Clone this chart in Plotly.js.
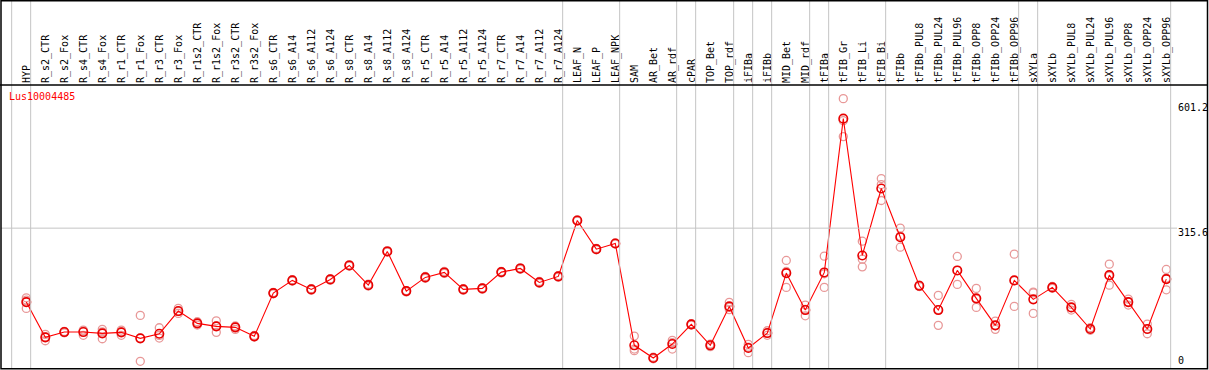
<!DOCTYPE html>
<html>
<head>
<meta charset="utf-8">
<script src="https://cdn.plot.ly/plotly-3.0.1.min.js"></script>
<style>html,body{margin:0;padding:0;background:#fff;}#chart{width:1209px;height:370px;}</style>
</head>
<body>
<div id="chart"></div>
<script>
const geneName = "Lus10004485";
const categories = ["HYP","R_s2_CTR","R_s2_Fox","R_s4_CTR","R_s4_Fox","R_r1_CTR","R_r1_Fox","R_r3_CTR","R_r3_Fox","R_r1s2_CTR","R_r1s2_Fox","R_r3s2_CTR","R_r3s2_Fox","R_s6_CTR","R_s6_A14","R_s6_A112","R_s6_A124","R_s8_CTR","R_s8_A14","R_s8_A112","R_s8_A124","R_r5_CTR","R_r5_A14","R_r5_A112","R_r5_A124","R_r7_CTR","R_r7_A14","R_r7_A112","R_r7_A124","LEAF_N","LEAF_P","LEAF_NPK","SAM","AR_Bet","AR_rdf","cPAR","TOP_Bet","TOP_rdf","iFIBa","iFIBb","MID_Bet","MID_rdf","tFIBa","tFIB_Gr","tFIB_Li","tFIB_Bi","tFIBb","tFIBb_PUL8","tFIBb_PUL24","tFIBb_PUL96","tFIBb_OPP8","tFIBb_OPP24","tFIBb_OPP96","sXYLa","sXYLb","sXYLb_PUL8","sXYLb_PUL24","sXYLb_PUL96","sXYLb_OPP8","sXYLb_OPP24","sXYLb_OPP96"];
const meanValues = [152.6,74.9,86.5,86.5,83.7,85.9,72.7,82.8,132.8,105.7,99.1,96.9,77.1,172.4,200.4,180.6,202.6,233.4,190.0,264.3,176.8,207.0,218.0,180.6,182.8,218.7,226.8,196.0,209.2,332.5,269.3,281.9,57.3,29.3,60.1,103.5,57.3,143.1,51.3,84.3,216.5,135.0,218.0,557.1,255.4,403.0,295.7,188.5,135.0,222.4,160.8,101.3,200.4,158.6,185.0,140.9,93.2,212.0,152.6,93.2,203.3];
const replicate1 = [162.1,81.5,88,91,92.5,91,123.3,96,138.7,109.2,111.4,100,79,174,202,182,204,235,192,266,178,209,220,182,184,220,228,198,211,334,271,283,77.7,31,68.3,105,60.1,152,59.5,89.4,244.4,146,253.9,601.2,286.9,425,315.6,190,167.4,253.2,182.8,110.8,258.3,174.6,187,147.5,96,236.3,159.2,104.2,224.6];
const replicate2 = [138.7,67.4,85,79.3,71.8,79.3,22,73.3,127.7,102,85.9,92.5,75.5,171,199,179,201,232,188,263,175,205,216,179,181,217,225,194,207.5,331,268,280.5,45.4,27.5,49.1,102,54.2,141,41,79.3,185,122.4,185,517.5,247.3,376.6,273.7,187,101.3,191.6,140.9,92.5,143.1,127.7,183,135,90.5,190,146,82.8,179.7];
const replicate3 = [157,75.8,86.5,89,87,87,73,79,132,106,100,98,77,172.4,200.4,180.6,202.6,233.4,190,264.3,176.8,207,218,180.6,182.8,218.7,226.8,196,209.2,332.5,269.3,281.9,49,29.3,63,103.5,57.5,136,53,84.3,220,136.6,215,552.6,230.3,411.8,298,188.5,136,222.4,159,101,200,173,185,140.3,93,210,152.6,92.5,205.5];
const groupEnds = [-1,0,28,31,34,35,37,38,39,41,42,45,52,53,60];

const idx = categories.map((c,i)=>i);
const allReps = [replicate1, replicate2, replicate3];
const repX = [], repY = [];
allReps.forEach(r => r.forEach((v,i)=>{ if(v!==null){repX.push(i); repY.push(v);} }));

const dataMax = Math.max(...meanValues, ...allReps.flat().filter(v=>v!==null));
const yTop = dataMax * 1.05;
const yMid = yTop / 2;

// pixel geometry
const W = 1209, H = 370, mL = 1, mR = 2, mT = 85, mB = 0;
const firstPx = 26.3, stepPx = 19;
const plotW = W - mL - mR, plotH = H - mT - mB;
const xr = [(mL - firstPx)/stepPx, (W - mR - firstPx)/stepPx];
const pxToPaperX = px => (px - mL)/plotW;
const pxToPaperY = py => (H - mB - py)/plotH;
const zeroPx = 371.3;
const yScale = (zeroPx - mT) / yTop;
const yr = [(zeroPx - (H - mB))/yScale, yTop];

const shapes = [];
groupEnds.forEach(g => {
  shapes.push({type:'line', xref:'x', yref:'paper', x0:g+0.23, x1:g+0.23, y0:pxToPaperY(369), y1:pxToPaperY(0), line:{color:'#c4c4c4', width:1}});
});
shapes.push({type:'line', xref:'paper', yref:'y', x0:0, x1:pxToPaperX(1177), y0:yMid, y1:yMid, line:{color:'#c4c4c4', width:1}});
// header separator and border
shapes.push({type:'line', xref:'paper', yref:'paper', x0:pxToPaperX(0), x1:pxToPaperX(1208), y0:pxToPaperY(85), y1:pxToPaperY(85), line:{color:'#000', width:1.5}});
shapes.push({type:'rect', xref:'paper', yref:'paper', x0:pxToPaperX(1), x1:pxToPaperX(1207.5), y0:pxToPaperY(368.8), y1:pxToPaperY(0.8), line:{color:'#000', width:1.5}});

const fontMono = 'DejaVu Sans Mono, monospace';
const annotations = [
  {xref:'paper', yref:'paper', x:pxToPaperX(7), y:pxToPaperY(89), xanchor:'left', yanchor:'top', text:geneName, showarrow:false, font:{family:fontMono, size:10, color:'#ff0000'}},
  {xref:'paper', yref:'paper', x:pxToPaperX(1176), y:pxToPaperY(100), xanchor:'left', yanchor:'top', text:dataMax.toFixed(1), showarrow:false, font:{family:fontMono, size:10, color:'#000'}},
  {xref:'paper', yref:'paper', x:pxToPaperX(1176), y:pxToPaperY(225), xanchor:'left', yanchor:'top', text:yMid.toFixed(1), showarrow:false, font:{family:fontMono, size:10, color:'#000'}},
  {xref:'paper', yref:'paper', x:pxToPaperX(1176), y:pxToPaperY(368), xanchor:'left', yanchor:'bottom', text:'0', showarrow:false, font:{family:fontMono, size:10, color:'#000'}}
];

const traces = [
  {x:repX, y:repY, type:'scatter', mode:'markers', cliponaxis:false, hoverinfo:'skip',
   marker:{symbol:'circle-open', size:8, color:'#e89898', line:{width:1.3, color:'#e89898'}}},
  {x:idx, y:meanValues, type:'scatter', mode:'lines+markers', cliponaxis:false,
   line:{color:'#ff0000', width:1.1},
   marker:{symbol:'circle-open', size:8.5, color:'#e80000', line:{width:1.6, color:'#e80000'}}}
];

const layout = {
  width:W, height:H, margin:{l:mL, r:mR, t:mT, b:mB, pad:0},
  paper_bgcolor:'#fff', plot_bgcolor:'#fff', showlegend:false,
  xaxis:{range:xr, side:'top', tickmode:'array', tickvals:idx, ticktext:categories, tickangle:-90,
         ticks:'', showgrid:false, zeroline:false, showline:false, ticklabelstandoff:1,
         tickfont:{family:fontMono, size:10, color:'#000'}, fixedrange:true},
  yaxis:{range:yr, showgrid:false, zeroline:false, showline:false, showticklabels:false, ticks:'', fixedrange:true},
  shapes:shapes, annotations:annotations
};
Plotly.newPlot('chart', traces, layout, {displayModeBar:false, staticPlot:true});
</script>
</body>
</html>
